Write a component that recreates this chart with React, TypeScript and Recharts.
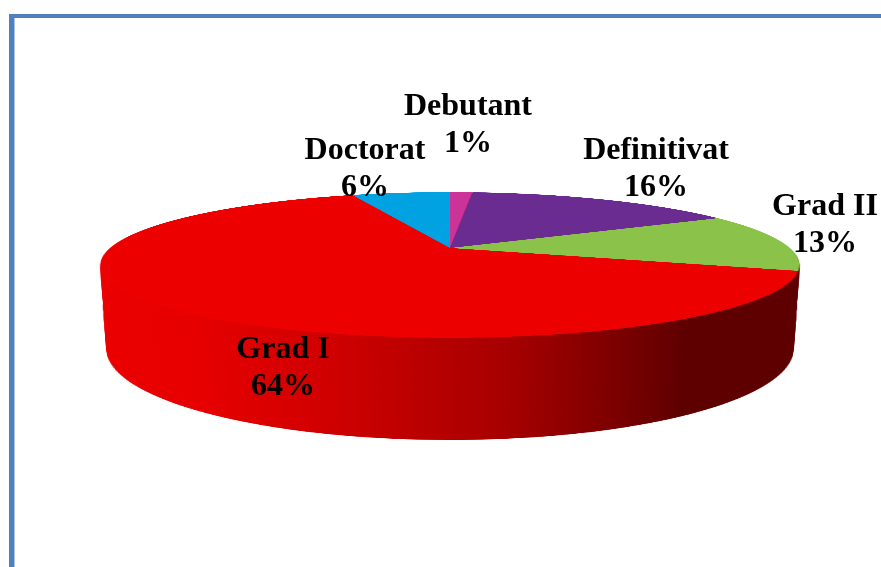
import React from 'react';
import { Cell, Pie, PieChart } from 'recharts';

const categories = ['Debutant', 'Definitivat', 'Grad II', 'Grad I', 'Doctorat'];
const shares = [1.3, 15.7, 13, 64.3, 5.7];
const colors = ['#CC3399', '#6B2C91', '#8AC24A', '#EC0000', '#00A2E1'];

const data = categories.map((name, i) => ({ name, value: shares[i] }));

// where the text of each label is centred, same order as categories
const labelX = [468, 656, 825, 283, 365];
const labelY = [115, 159, 215, 358, 159];

const SIZE = 720;
const RADIUS = 340;
const CENTER_X = 450;
const CENTER_Y = 248;
const TILT = 'perspective(1433px) rotateX(78.3deg)';
const DEPTH = 83;

const wallLayers: number[] = [];
for (let d = DEPTH; d > 0; d--) wallLayers.push(d);

const layerStyle = (depth: number): React.CSSProperties => ({
  position: 'absolute',
  left: CENTER_X - SIZE / 2,
  top: CENTER_Y - SIZE / 2,
  width: SIZE,
  height: SIZE,
  transformOrigin: '50% 50%',
  // the wall narrows a little more towards the bottom than the perspective alone gives
  transform: `${TILT} translateZ(${-depth}px) scale(${1 - depth * 0.00006})`,
});

const Disc = ({ depth, wall }: { depth: number; wall: boolean }) => (
  <div style={layerStyle(depth)}>
    <PieChart width={SIZE} height={SIZE} margin={{ top: 0, right: 0, bottom: 0, left: 0 }}>
      {wall && (
        <defs>
          <linearGradient id={`wall${depth}`} gradientUnits="userSpaceOnUse" x1={19} y1={0} x2={701} y2={0}>
            <stop offset="0" stopColor="#EC0000" />
            <stop offset="0.2" stopColor="#E60000" />
            <stop offset="0.36" stopColor="#D00000" />
            <stop offset="0.57" stopColor="#A50000" />
            <stop offset="0.78" stopColor="#5E0000" />
            <stop offset="1" stopColor="#5E0000" />
          </linearGradient>
        </defs>
      )}
      <Pie
        data={data}
        dataKey="value"
        nameKey="name"
        cx={SIZE / 2}
        cy={SIZE / 2}
        innerRadius={0}
        outerRadius={RADIUS}
        startAngle={90}
        endAngle={-270}
        stroke="none"
        isAnimationActive={false}
      >
        {data.map((s, i) => (
          <Cell key={s.name} fill={wall ? `url(#wall${depth})` : colors[i]} />
        ))}
      </Pie>
    </PieChart>
  </div>
);

const renderLabel = (props: any) => {
  const i = props.index;
  const x = labelX[i];
  const y = labelY[i];
  return (
    <text
      key={categories[i]}
      x={x}
      y={y}
      textAnchor="middle"
      fontFamily="'Liberation Serif', serif"
      fontWeight="700"
      fontSize={32}
      fill="#000"
    >
      <tspan x={x}>{categories[i]}</tspan>
      <tspan x={x} dy={37}>{`${Math.round(shares[i])}%`}</tspan>
    </text>
  );
};

export default function App() {
  return (
    <div style={{ position: 'fixed', left: 0, top: 0, width: 881, height: 567, background: '#fff', overflow: 'hidden' }}>
      <div style={{ position: 'absolute', left: 9, top: 14, width: 872, height: 4, background: '#4F81BD' }} />
      <div style={{ position: 'absolute', left: 9, top: 14, width: 5, height: 553, background: '#4F81BD' }} />
      <div style={{ position: 'absolute', left: 14, top: 18, width: 1, height: 549, background: '#A9C4E4' }} />

      {wallLayers.map((d) => (
        <Disc key={d} depth={d} wall />
      ))}
      <Disc depth={0} wall={false} />

      <div style={{ position: 'absolute', left: 0, top: 0 }}>
        <PieChart width={881} height={567} margin={{ top: 0, right: 0, bottom: 0, left: 0 }}>
          <Pie
            data={data}
            dataKey="value"
            cx={CENTER_X}
            cy={CENTER_Y}
            outerRadius={1}
            fill="none"
            stroke="none"
            label={renderLabel}
            labelLine={false}
            isAnimationActive={false}
          />
        </PieChart>
      </div>
    </div>
  );
}
